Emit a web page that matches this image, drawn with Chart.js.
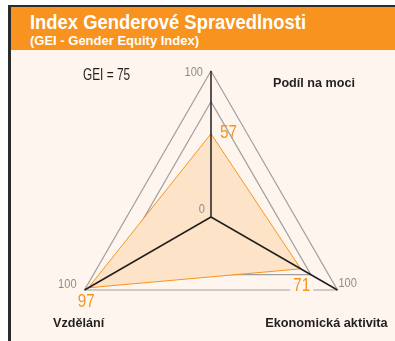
<!DOCTYPE html>
<html>
<head>
<meta charset="utf-8">
<script src="https://cdn.jsdelivr.net/npm/chart.js@4/dist/chart.umd.min.js"></script>
<style>
  html, body { margin: 0; padding: 0; background: #fff; overflow: hidden; }
  body { width: 395px; height: 341px; position: relative; font-family: "Liberation Sans", Arial, sans-serif; }
  #frame { position: absolute; left: 8px; top: 5px; right: 0; bottom: 0; background: #2b2b2b; }
  #panel { position: absolute; left: 11px; top: 7px; right: 0; bottom: 0; background: #fef6ee; }
  #head { position: absolute; left: 11px; top: 7px; right: 0; height: 43px; background: #f7931e; color: #fff; }
  #head h1, #head h2 { position: absolute; left: 19px; margin: 0; font-weight: bold; white-space: nowrap; transform-origin: 0 0; }
  #head h1 { top: 3px; font-size: 21px; line-height: 24px; transform: scaleX(0.876); }
  #head h2 { top: 26px; font-size: 13px; line-height: 15px; }
  canvas { position: absolute; left: 0; top: 0; }
</style>
</head>
<body>
<div id="frame"></div>
<div id="panel"></div>
<div id="head">
  <h1>Index Genderové Spravedlnosti</h1>
  <h2>(GEI - Gender Equity Index)</h2>
</div>
<canvas id="gei" width="395" height="420"></canvas>
<script>
const dimensions = ["Podíl na moci", "Ekonomická aktivita", "Vzdělání"];
const scores = [57, 71, 97];
const gridValues = [0, 79, 100];
const geiTotal = 75;

const FONT = '"Liberation Sans", Arial, sans-serif';
const ORANGE = "#f7931e";
const CREAM = "#fef6ee";

// condensed-looking text: squeeze horizontally around the anchor
function squeezed(ctx, text, x, y, sx) {
  ctx.save();
  ctx.translate(x, y);
  ctx.scale(sx, 1);
  ctx.fillText(text, 0, 0);
  ctx.restore();
}

// spokes, scale numbers, value labels and axis names on top of the filled area
const overlay = {
  id: "overlay",
  afterDatasetsDraw(chart) {
    const ctx = chart.ctx;
    const r = chart.scales.r;
    const outer = dimensions.map((_, i) => r.getPointPositionForValue(i, r.max));
    const pts = scores.map((v, i) => r.getPointPositionForValue(i, v));
    const c = { x: r.xCenter, y: r.yCenter };

    ctx.save();
    ctx.strokeStyle = "#231f20";
    ctx.lineWidth = 1.5;
    outer.forEach(p => {
      ctx.beginPath();
      ctx.moveTo(c.x, c.y);
      ctx.lineTo(p.x, p.y);
      ctx.stroke();
    });

    ctx.textBaseline = "middle";
    ctx.fillStyle = "#8c8c8c";
    ctx.font = "13px " + FONT;
    const maxLabel = String(gridValues[gridValues.length - 1]);
    ctx.textAlign = "right";
    squeezed(ctx, maxLabel, outer[0].x - 8, outer[0].y + 1, 0.85);
    squeezed(ctx, maxLabel, outer[2].x - 8, outer[2].y - 6, 0.85);
    squeezed(ctx, String(gridValues[0]), c.x - 6, c.y - 8, 0.85);
    ctx.textAlign = "left";
    squeezed(ctx, maxLabel, outer[1].x + 1, outer[1].y - 7, 0.85);

    ctx.font = "18px " + FONT;
    ctx.fillStyle = ORANGE;
    ctx.textAlign = "left";
    squeezed(ctx, String(scores[0]), pts[0].x + 9, pts[0].y - 1, 0.85);
    ctx.textAlign = "center";
    squeezed(ctx, String(scores[2]), pts[2].x - 2, pts[2].y + 14, 0.85);
    // the second value sits on the bottom edge, cut out of the line
    const w = ctx.measureText(String(scores[1])).width * 0.85;
    ctx.fillStyle = CREAM;
    ctx.fillRect(pts[1].x + 1 - w / 2 - 3, outer[1].y - 4, w + 6, 8);
    ctx.fillStyle = ORANGE;
    squeezed(ctx, String(scores[1]), pts[1].x + 1, outer[1].y - 4, 0.85);

    ctx.fillStyle = "#231f20";
    ctx.font = "bold 13px " + FONT;
    ctx.textBaseline = "alphabetic";
    ctx.textAlign = "left";
    squeezed(ctx, dimensions[0], outer[0].x + 62, outer[0].y + 16, 0.97);
    ctx.textAlign = "center";
    squeezed(ctx, dimensions[2], outer[2].x - 6, outer[2].y + 37, 0.97);
    squeezed(ctx, dimensions[1], outer[1].x - 11, outer[1].y + 37, 0.98);

    ctx.font = "16px " + FONT;
    ctx.textAlign = "left";
    squeezed(ctx, "GEI = " + geiTotal, 83, 80, 0.74);
    ctx.restore();
  }
};

new Chart(document.getElementById("gei"), {
  type: "radar",
  data: {
    labels: dimensions,
    datasets: [{
      data: scores,
      backgroundColor: "#fde3c8",
      borderColor: ORANGE,
      borderWidth: 1,
      pointRadius: 0,
      fill: true
    }]
  },
  options: {
    responsive: false,
    animation: false,
    layout: { padding: { left: 65, right: 38, top: 71, bottom: 57 } },
    plugins: { legend: { display: false }, tooltip: { enabled: false } },
    scales: {
      r: {
        min: 0,
        max: 100,
        ticks: { display: false },
        pointLabels: { display: false },
        angleLines: { display: false },
        grid: { color: "#a0a0a0", lineWidth: 1.2 },
        afterBuildTicks: s => { s.ticks = gridValues.map(v => ({ value: v })); }
      }
    }
  },
  plugins: [overlay]
});
</script>
</body>
</html>
